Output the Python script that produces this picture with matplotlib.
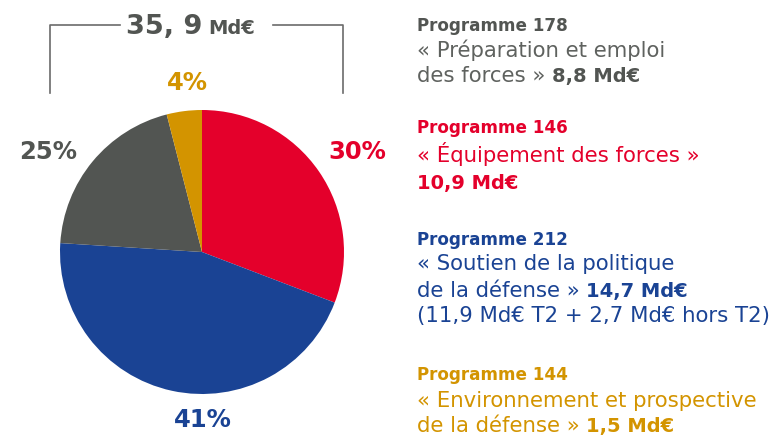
import matplotlib
matplotlib.use('Agg')
import matplotlib.pyplot as plt
from matplotlib.lines import Line2D

# Données (parts des tranches telles que dessinées, libellés affichés)
programmes = ['146', '212', '178', '144']
parts = [30.8, 45.2, 20.0, 4.0]
pourcentages = ['30%', '41%', '25%', '4%']
couleurs = ['#E4002B', '#1A4394', '#525552', '#D39400']
total = '35, 9'

W, H = 780, 438
fig = plt.figure(figsize=(W / 100, H / 100), dpi=100)
plt.rcParams['font.family'] = ['DejaVu Sans']


def px(x, y):
    return x / W, 1 - y / H


# Camembert
cx, cy, r = 202, 252, 142
ax = fig.add_axes([(cx - r) / W, (H - cy - r) / H, 2 * r / W, 2 * r / H])
ax.pie(parts, colors=couleurs, startangle=90, counterclock=False,
       wedgeprops=dict(linewidth=0))
ax.set_xlim(-1, 1)
ax.set_ylim(-1, 1)
ax.set_aspect('equal')
ax.axis('off')

# Pourcentages
pos_pct = [(357, 152), (203, 420), (48, 152), (187, 83)]
for (x, y), t, c in zip(pos_pct, pourcentages, couleurs):
    fig.text(*px(x, y), t, color=c, fontsize=17.5, fontweight='bold',
             ha='center', va='center')

# Accolade du total
gris = '#6b6b6b'
fig.add_artist(Line2D([50 / W, 50 / W, 120 / W], [1 - 93 / H, 1 - 25 / H, 1 - 25 / H],
                      color=gris, lw=1.2, transform=fig.transFigure))
fig.add_artist(Line2D([273 / W, 343 / W, 343 / W], [1 - 25 / H, 1 - 25 / H, 1 - 93 / H],
                      color=gris, lw=1.2, transform=fig.transFigure))
fig.text(*px(126, 34), total, color='#525552', fontsize=19.5, fontweight='bold',
         ha='left', va='baseline')
fig.text(*px(208, 34), 'Md€', color='#525552', fontsize=14, fontweight='bold',
         ha='left', va='baseline')

# Légende à droite
renderer = fig.canvas.get_renderer()
X0 = 417
tailles = {0: 15.3, 1: 14, 2: 12.1}

blocs = [
    ('#525552', [(31, [('Programme 178', 2)]),
                 (57, [('« Préparation et emploi', 0)]),
                 (82, [('des forces » ', 0), ('8,8 Md€', 1)])]),
    ('#E4002B', [(133, [('Programme 146', 2)]),
                 (162, [('« Équipement des forces »', 0)]),
                 (189, [('10,9 Md€', 1)])]),
    ('#1A4394', [(245, [('Programme 212', 2)]),
                 (270, [('« Soutien de la politique', 0)]),
                 (297, [('de la défense » ', 0), ('14,7 Md€', 1)]),
                 (322, [('(11,9 Md€ T2 + 2,7 Md€ hors T2)', 0)])]),
    ('#D39400', [(380, [('Programme 144', 2)]),
                 (407, [('« Environnement et prospective', 0)]),
                 (432, [('de la défense » ', 0), ('1,5 Md€', 1)])]),
]
for couleur, lignes in blocs:
    c_txt = '#5f625f' if couleur == '#525552' else couleur
    for y, morceaux in lignes:
        x = X0
        for txt, gras in morceaux:
            col = couleur if gras else c_txt
            t = fig.text(*px(x, y), txt, color=col, fontsize=tailles[gras],
                         fontweight='bold' if gras else 'normal',
                         ha='left', va='baseline')
            x += t.get_window_extent(renderer).width

fig.savefig('out.png', dpi=100)
